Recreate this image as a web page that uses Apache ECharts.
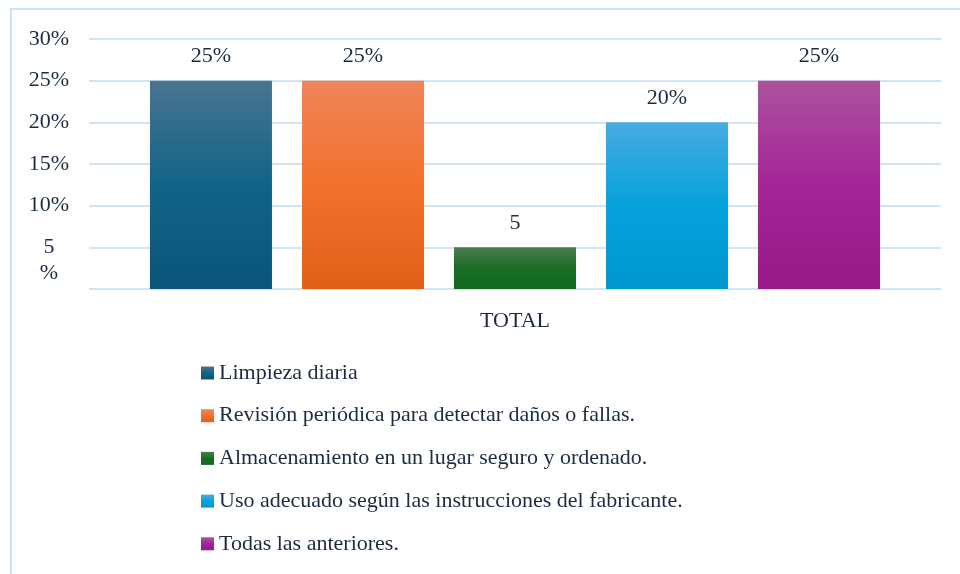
<!DOCTYPE html>
<html>
<head>
<meta charset="utf-8">
<script src="https://cdn.jsdelivr.net/npm/echarts@6/dist/echarts.min.js"></script>
<style>
  html, body { margin: 0; padding: 0; background: #fff; }
  #chart { width: 960px; height: 574px; }
</style>
</head>
<body>
<div id="chart"></div>
<script>
// datos del gráfico
const categories = ['TOTAL']
const seriesNames = [
  'Limpieza diaria',
  'Revisión periódica para detectar daños o fallas.',
  'Almacenamiento en un lugar seguro y ordenado.',
  'Uso adecuado según las instrucciones del fabricante.',
  'Todas las anteriores.'
]
const values = [25, 25, 5, 20, 25]
const valueLabels = ['25%', '25%', '5', '20%', '25%']
const yTicks = [0, 5, 10, 15, 20, 25, 30]

// colores degradados (arriba, medio, abajo)
const gradients = [
  ['#4a7490', '#126388', '#0a5579'],
  ['#ef8558', '#f2712d', '#e15f18'],
  ['#4b7d4c', '#186d24', '#0f6a1e'],
  ['#48aae0', '#06a2dd', '#0097cf'],
  ['#ad529f', '#a32597', '#971a88']
]

const textColor = '#1c2b3f'
const font = 'Times New Roman, Liberation Serif, DejaVu Serif, serif'

const grad = (c) => new echarts.graphic.LinearGradient(0, 0, 0, 1, [
  {offset: 0, color: c[0]},
  {offset: 0.5, color: c[1]},
  {offset: 1, color: c[2]}
])

let myChart = echarts.init(document.getElementById('chart'))

let option = {
  animation: false,
  textStyle: {fontFamily: font},
  graphic: [{
    type: 'rect',
    shape: {x: 11, y: 9, width: 980, height: 620},
    style: {fill: 'none', stroke: '#cfe1f5', lineWidth: 2},
    silent: true
  }],
  grid: {
    left: 89,
    right: 19,
    top: 39,
    bottom: 285
  },
  legend: {
    orient: 'vertical',
    left: 196,
    top: 357,
    itemGap: 20.7,
    itemWidth: 13,
    itemHeight: 13,
    icon: 'rect',
    textStyle: {fontFamily: font, fontSize: 22, color: textColor},
    data: seriesNames
  },
  xAxis: {
    type: 'category',
    data: categories,
    axisLine: {show: false},
    axisTick: {show: false},
    axisLabel: {fontFamily: font, fontSize: 22, color: textColor, margin: 21}
  },
  yAxis: {
    type: 'value',
    min: yTicks[0],
    max: yTicks[yTicks.length - 1],
    interval: 5,
    axisLine: {show: false},
    axisTick: {show: false},
    splitLine: {lineStyle: {color: '#d2e3f5', width: 2}},
    axisLabel: {
      fontFamily: font,
      fontSize: 22,
      color: textColor,
      align: 'center',
      margin: 40,
      lineHeight: 26,
      formatter: function (v) {
        if (v === 0) return ''
        if (v === 5) return '\u00a0\n5\n%'
        return v + '%'
      }
    }
  },
  series: seriesNames.map((name, i) => ({
    name: name,
    type: 'bar',
    data: [values[i]],
    barWidth: 122,
    barGap: '24.6%',
    itemStyle: {color: grad(gradients[i])},
    label: {
      show: true,
      position: 'top',
      distance: 13,
      fontFamily: font,
      fontSize: 22,
      color: textColor,
      formatter: () => valueLabels[i]
    }
  }))
}

myChart.setOption(option)
</script>
</body>
</html>
